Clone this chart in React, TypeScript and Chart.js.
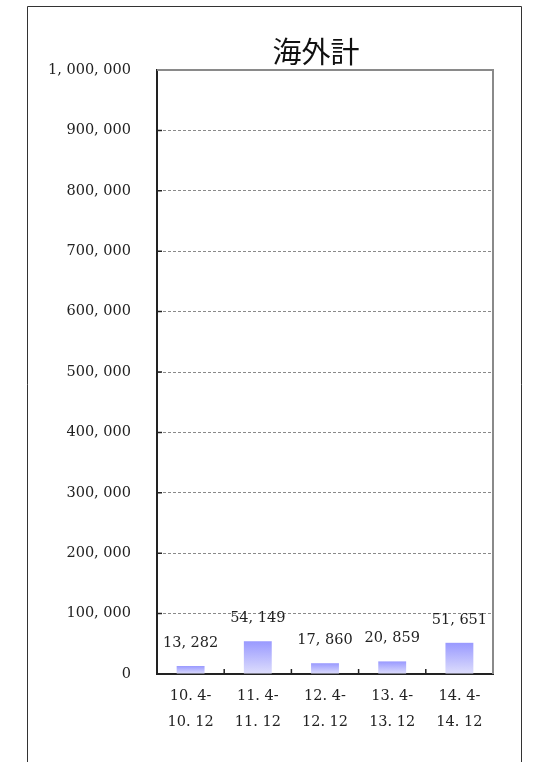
import React, { useEffect, useRef } from "react";
import { Chart, registerables } from "chart.js";

Chart.register(...registerables);

const title = "海外計";
const periodStart = ["10.4-", "11.4-", "12.4-", "13.4-", "14.4-"];
const periodEnd = ["10.12", "11.12", "12.12", "13.12", "14.12"];
const values = [13282, 54149, 17860, 20859, 51651];
const yMin = 0;
const yMax = 1000000;
const yStep = 100000;

const NUM_FONT = "'DejaVu Serif', 'Liberation Serif', serif";
const TEXT_COLOR = "#222";

// mimic wide half-width punctuation of the original font
const widen = (s: string) => s.replace(/([.,])/g, "$1 ");
const fmt = (v: number) => widen(Math.round(v).toLocaleString("en-US"));

const decorPlugin = {
  id: "decor",
  beforeDraw(chart: any) {
    const c = chart.ctx;
    c.save();
    c.strokeStyle = "#333";
    c.lineWidth = 1;
    c.beginPath();
    c.moveTo(27.5, 762);
    c.lineTo(27.5, 6.5);
    c.lineTo(521.5, 6.5);
    c.lineTo(521.5, 762);
    c.stroke();
    c.restore();
  },
  afterDraw(chart: any) {
    const c = chart.ctx;
    const { left, right, top, bottom } = chart.chartArea;
    c.save();
    // top & right frame of plot area
    c.strokeStyle = "#8a8a8a";
    c.lineWidth = 2;
    c.beginPath();
    c.moveTo(left, top);
    c.lineTo(right, top);
    c.lineTo(right, bottom);
    c.stroke();
    // inner tick marks
    c.strokeStyle = "#222";
    c.lineWidth = 1.5;
    const xs = chart.scales.x;
    const n = xs.ticks.length;
    c.beginPath();
    for (let i = 0; i < n - 1; i++) {
      const bx = (xs.getPixelForTick(i) + xs.getPixelForTick(i + 1)) / 2;
      c.moveTo(bx, bottom);
      c.lineTo(bx, bottom - 5);
    }
    const ys = chart.scales.y;
    ys.ticks.forEach((t: any) => {
      const py = ys.getPixelForValue(t.value);
      if (t.value === yMin || t.value === yMax) return;
      c.moveTo(left, py);
      c.lineTo(left + 5, py);
    });
    c.stroke();
    // title
    c.fillStyle = "#111";
    c.font = "29px 'Noto Sans CJK JP', sans-serif";
    c.textAlign = "center";
    c.textBaseline = "middle";
    c.fillText(title, 316, 52);
    c.restore();
  },
  afterDatasetsDraw(chart: any) {
    const c = chart.ctx;
    const meta = chart.getDatasetMeta(0);
    c.save();
    c.fillStyle = TEXT_COLOR;
    c.font = `14.5px ${NUM_FONT}`;
    c.textAlign = "center";
    c.textBaseline = "middle";
    meta.data.forEach((bar: any, i: number) => {
      c.fillText(fmt(values[i]), bar.x, bar.y - 23);
    });
    c.restore();
  },
};

export default function App() {
  const ref = useRef<HTMLCanvasElement>(null);
  useEffect(() => {
    if (!ref.current) return;
    const chart = new Chart(ref.current, {
      type: "bar",
      data: {
        labels: periodStart.map((s, i) => [widen(s), widen(periodEnd[i])]),
        datasets: [
          {
            data: values,
            barPercentage: 0.415,
            categoryPercentage: 1,
            borderWidth: 0,
            backgroundColor: (ctx: any) => {
              const ch = ctx.chart;
              if (!ch.chartArea || !ch.scales.y) return "#9999ff";
              const v = ctx.raw as number;
              const y0 = ch.scales.y.getPixelForValue(v);
              const y1 = ch.scales.y.getPixelForValue(0);
              if (!isFinite(y0) || !isFinite(y1) || y1 - y0 < 1) return "#9999ff";
              const g = ch.ctx.createLinearGradient(0, y0, 0, y1);
              g.addColorStop(0, "#9999ff");
              g.addColorStop(1, "#dedefc");
              return g;
            },
          },
        ],
      },
      options: {
        responsive: false,
        animation: false,
        layout: { padding: { top: 70, right: 46, left: 0, bottom: 0 } },
        plugins: {
          legend: { display: false },
          title: { display: false },
          tooltip: { enabled: false },
        },
        scales: {
          x: {
            grid: { display: false, drawTicks: false },
            border: { display: true, color: "#222", width: 2 },
            ticks: {
              color: TEXT_COLOR,
              font: { family: NUM_FONT, size: 14.5, lineHeight: 1.75 },
              padding: 10,
              maxRotation: 0,
              autoSkip: false,
            },
            afterFit: (s: any) => {
              s.height = 88;
            },
          },
          y: {
            min: yMin,
            max: yMax,
            grid: {
              color: "#8a8a8a",
              lineWidth: 1,
              drawTicks: false,
            },
            border: { display: true, color: "#222", width: 2, dash: [3, 2] },
            ticks: {
              stepSize: yStep,
              color: TEXT_COLOR,
              font: { family: NUM_FONT, size: 14.5 },
              padding: 26,
              callback: (v: any) => fmt(Number(v)),
            },
            afterFit: (s: any) => {
              s.width = 157;
            },
          },
        },
      },
      plugins: [decorPlugin],
    });
    return () => chart.destroy();
  }, []);
  return (
    <div style={{ position: "absolute", left: 0, top: 0, width: 539, height: 762 }}>
      <canvas ref={ref} width={539} height={762} />
    </div>
  );
}
